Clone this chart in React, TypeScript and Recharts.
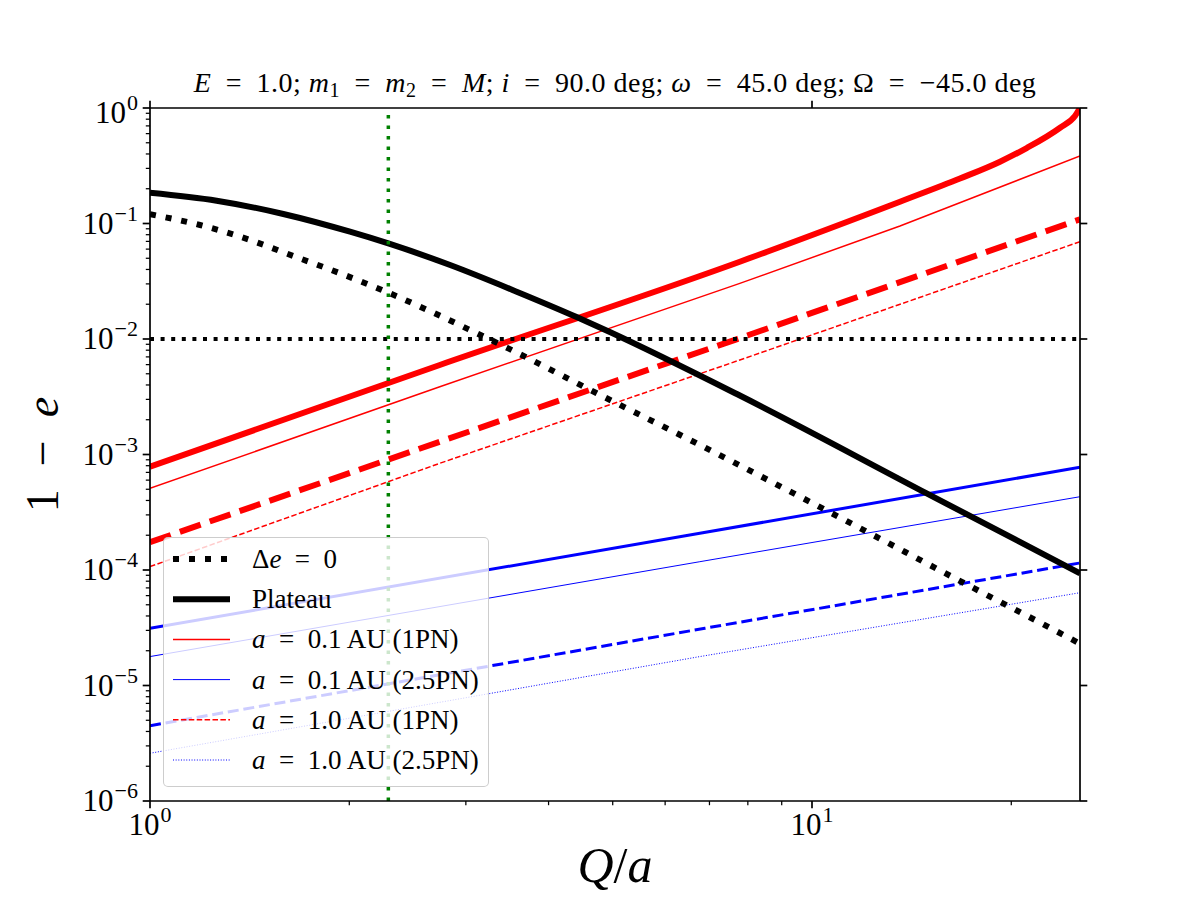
import React from "react";
import { LineChart, Line, XAxis, YAxis, ReferenceLine } from "recharts";

// plot frame (matplotlib default subplot box on a 1200x900 figure)
const LEFT = 150;
const RIGHT = 1080;
const TOP = 108;
const BOTTOM = 801;
const SERIF = '"Liberation Serif", "DejaVu Serif", serif';

// x = Q/a, y = 1 - e
const plateau = [
  { x: 1, y: 0.1848 },
  { x: 1.261, y: 0.1576 },
  { x: 1.59, y: 0.1209 },
  { x: 2.005, y: 0.0849 },
  { x: 2.291, y: 0.0672 },
  { x: 2.84, y: 0.0437 },
  { x: 3.58, y: 0.0257 },
  { x: 4.41, y: 0.0155 },
  { x: 4.95, y: 0.0115 },
  { x: 7.78, y: 0.00324 },
  { x: 14.9, y: 4.61e-4 },
  { x: 25.4, y: 9.36e-5 },
];

const deltaEZero = [
  { x: 1, y: 0.1202 },
  { x: 1.19, y: 0.097 },
  { x: 1.416, y: 0.072 },
  { x: 1.646, y: 0.0523 },
  { x: 1.936, y: 0.0371 },
  { x: 2.291, y: 0.0252 },
  { x: 2.679, y: 0.0169 },
  { x: 3.133, y: 0.01105 },
  { x: 3.477, y: 0.0083 },
  { x: 4.73, y: 0.00339 },
  { x: 6.77, y: 0.00121 },
  { x: 10.71, y: 3.1e-4 },
  { x: 16.93, y: 7.76e-5 },
  { x: 24.25, y: 2.65e-5 },
  { x: 25.4, y: 2.3e-5 },
];

const red1pnThick = [
  { x: 1, y: 7.84e-4 },
  { x: 2.74, y: 5.96e-3 },
  { x: 7.78, y: 0.0467 },
  { x: 13.58, y: 0.1545 },
  { x: 16.73, y: 0.245 },
  { x: 19.23, y: 0.343 },
  { x: 21.1, y: 0.45 },
  { x: 23.7, y: 0.675 },
  { x: 24.96, y: 0.853 },
  { x: 25.4, y: 1.0 },
];

const red1pnThin = [
  { x: 1, y: 5.09e-4 },
  { x: 2.74, y: 3.86e-3 },
  { x: 7.78, y: 0.0303 },
  { x: 13.58, y: 0.0951 },
  { x: 25.4, y: 0.384 },
];

const red1pnDashThick = [
  { x: 1, y: 1.74e-4 },
  { x: 2.74, y: 1.29e-3 },
  { x: 7.69, y: 9.94e-3 },
  { x: 25.4, y: 0.1087 },
];

const red1pnDashThin = [
  { x: 1, y: 1.07e-4 },
  { x: 2.74, y: 8.39e-4 },
  { x: 7.78, y: 6.58e-3 },
  { x: 25.4, y: 0.0696 },
];

const blue25pnThick = [
  { x: 1, y: 3.13e-5 },
  { x: 6.77, y: 2.08e-4 },
  { x: 25.4, y: 7.75e-4 },
];

const blue25pnThin = [
  { x: 1, y: 1.78e-5 },
  { x: 6.77, y: 1.18e-4 },
  { x: 25.4, y: 4.31e-4 },
];

const blue25pnDashThick = [
  { x: 1, y: 4.49e-6 },
  { x: 6.89, y: 3.13e-5 },
  { x: 25.4, y: 1.15e-4 },
];

const blue25pnDotThin = [
  { x: 1, y: 2.59e-6 },
  { x: 6.77, y: 1.78e-5 },
  { x: 25.4, y: 6.36e-5 },
];

const qMarker = 2.291;
const eLimit = 0.01;

const xDomain = [1, 25.4];
const yDomain = [1e-6, 1];
const xTicks = [1, 2, 3, 4, 5, 6, 7, 8, 9, 10, 20];
const xMajorTicks = [1, 10];
const yMajorTicks = [1e-6, 1e-5, 1e-4, 1e-3, 1e-2, 1e-1, 1];
const yTicks = [
  ...yMajorTicks,
  ...yMajorTicks.slice(0, -1).flatMap((d) => [2, 3, 4, 5, 6, 7, 8, 9].map((m) => m * d)),
];

const SP = "\u2002";
const legendLabels = [
  ["Δ", "e", `${SP}=${SP}0`],
  ["", "", "Plateau"],
  ["", "a", `${SP}=${SP}0.1 AU (1PN)`],
  ["", "a", `${SP}=${SP}0.1 AU (2.5PN)`],
  ["", "a", `${SP}=${SP}1.0 AU (1PN)`],
  ["", "a", `${SP}=${SP}1.0 AU (2.5PN)`],
];
const legendStyles = [
  { stroke: "#000", w: 6, dash: "6 10" },
  { stroke: "#000", w: 6, dash: undefined },
  { stroke: "red", w: 1.5, dash: undefined },
  { stroke: "blue", w: 1, dash: undefined },
  { stroke: "red", w: 1.5, dash: "5.5 2.4" },
  { stroke: "blue", w: 1, dash: "1 1.65" },
];

const MAJOR = 7.3;
const MINOR = 4.2;
const TICK_FS = 31;
const SUP_FS = 22;

function isMajor(v: number) {
  const l = Math.log10(v);
  return Math.abs(l - Math.round(l)) < 1e-6;
}

function expLabel(v: number) {
  const e = Math.round(Math.log10(v));
  return e < 0 ? "\u2212" + Math.abs(e) : String(e);
}

function TickText({ x, y, anchor, v }: { x: number; y: number; anchor: "middle" | "end"; v: number }) {
  return (
    <text x={x} y={y} textAnchor={anchor} fontFamily={SERIF} fontSize={TICK_FS} fill="#000">
      10<tspan dx={1} dy={-13} fontSize={SUP_FS}>{expLabel(v)}</tspan>
    </text>
  );
}

function BottomTick(props: any) {
  const { x, payload } = props;
  const v = payload.value;
  const major = isMajor(v);
  return (
    <g>
      <line x1={x} x2={x} y1={BOTTOM} y2={BOTTOM + (major ? MAJOR : MINOR)} stroke="#000" strokeWidth={major ? 1.7 : 1.25} />
      {major && <TickText x={x} y={BOTTOM + 34} anchor="middle" v={v} />}
    </g>
  );
}

function TopTick(props: any) {
  const { x } = props;
  return <line x1={x} x2={x} y1={TOP} y2={TOP - MAJOR} stroke="#000" strokeWidth={1.7} />;
}

function LeftTick(props: any) {
  const { y, payload } = props;
  const v = payload.value;
  const major = isMajor(v);
  const base = v === 1 ? y + 15 : y + 10;
  return (
    <g>
      <line x1={LEFT} x2={LEFT - (major ? MAJOR : MINOR)} y1={y} y2={y} stroke="#000" strokeWidth={major ? 1.7 : 1.25} />
      {major && <TickText x={LEFT - 12} y={base} anchor="end" v={v} />}
    </g>
  );
}

function RightTick(props: any) {
  const { y } = props;
  return <line x1={RIGHT} x2={RIGHT + MAJOR} y1={y} y2={y} stroke="#000" strokeWidth={1.7} />;
}

function Legend() {
  return (
    <div
      style={{
        position: "absolute",
        left: 163,
        top: 537,
        width: 326,
        height: 250,
        boxSizing: "border-box",
        border: "1.5px solid rgba(200,200,200,0.9)",
        borderRadius: 5,
        background: "rgba(255,255,255,0.8)",
      }}
    >
      <svg width={323} height={247} style={{ display: "block" }}>
        {legendLabels.map((lab, i) => {
          const cy = 21 + 40.2 * i;
          const s = legendStyles[i];
          return (
            <g key={i}>
              <line x1={9} x2={66} y1={cy} y2={cy} stroke={s.stroke} strokeWidth={s.w} strokeDasharray={s.dash} />
              <text x={88} y={cy + 9} fontFamily={SERIF} fontSize={27} fill="#000">
                {lab[0]}
                {lab[1] && <tspan fontStyle="italic">{lab[1]}</tspan>}
                {lab[2]}
              </text>
            </g>
          );
        })}
      </svg>
    </div>
  );
}

function Texts() {
  const eq = `${SP}=${SP}`;
  return (
    <svg width={1200} height={900} style={{ position: "absolute", left: 0, top: 0, pointerEvents: "none" }}>
      <text
        x={(LEFT + RIGHT) / 2}
        y={92}
        textAnchor="middle"
        fontFamily={SERIF}
        fontSize={28}
        letterSpacing={0.5}
        fill="#000"
      >
        <tspan fontStyle="italic">E</tspan>
        {`${eq}1.0; `}
        <tspan fontStyle="italic">m</tspan>
        <tspan dy={5} fontSize={20}>1</tspan>
        <tspan dy={-5}>{eq}</tspan>
        <tspan fontStyle="italic">m</tspan>
        <tspan dy={5} fontSize={20}>2</tspan>
        <tspan dy={-5}>{eq}</tspan>
        <tspan fontStyle="italic">M</tspan>
        {"; "}
        <tspan fontStyle="italic">i</tspan>
        {`${eq}90.0 deg; `}
        <tspan fontStyle="italic">ω</tspan>
        {`${eq}45.0 deg; Ω${eq}\u221245.0 deg`}
      </text>
      <text x={(LEFT + RIGHT) / 2} y={882} textAnchor="middle" fontFamily={SERIF} fontSize={50} fill="#000">
        <tspan fontStyle="italic">Q</tspan>/<tspan fontStyle="italic">a</tspan>
      </text>
      <text
        x={58}
        y={(TOP + BOTTOM) / 2}
        textAnchor="middle"
        transform={`rotate(-90, 58, ${(TOP + BOTTOM) / 2})`}
        fontFamily={SERIF}
        fontSize={46}
        fill="#000"
      >
        {`1${SP}\u2212${SP}`}
        <tspan fontStyle="italic">e</tspan>
      </text>
    </svg>
  );
}

export default function App() {
  const axisLine = { stroke: "#000", strokeWidth: 1.7 };
  return (
    <div style={{ position: "absolute", left: 0, top: 0, width: 1200, height: 900, background: "#fff" }}>
      <LineChart width={1200} height={900} margin={{ top: TOP - 1, right: 1200 - RIGHT - 1, bottom: 900 - BOTTOM - 1, left: LEFT - 1 }}>
        <XAxis
          xAxisId="b"
          dataKey="x"
          type="number"
          scale="log"
          domain={xDomain}
          allowDataOverflow
          ticks={xTicks}
          interval={0}
          height={1}
          tickSize={0}
          tickMargin={0}
          tickLine={false}
          axisLine={axisLine}
          tick={<BottomTick />}
        />
        <XAxis
          xAxisId="t"
          orientation="top"
          dataKey="x"
          type="number"
          scale="log"
          domain={xDomain}
          allowDataOverflow
          ticks={xMajorTicks}
          interval={0}
          height={1}
          tickSize={0}
          tickMargin={0}
          tickLine={false}
          axisLine={axisLine}
          tick={<TopTick />}
        />
        <YAxis
          yAxisId="l"
          dataKey="y"
          type="number"
          scale="log"
          domain={yDomain}
          allowDataOverflow
          ticks={yTicks}
          interval={0}
          width={1}
          tickSize={0}
          tickMargin={0}
          tickLine={false}
          axisLine={axisLine}
          tick={<LeftTick />}
        />
        <YAxis
          yAxisId="r"
          orientation="right"
          dataKey="y"
          type="number"
          scale="log"
          domain={yDomain}
          allowDataOverflow
          ticks={yMajorTicks}
          interval={0}
          width={1}
          tickSize={0}
          tickMargin={0}
          tickLine={false}
          axisLine={axisLine}
          tick={<RightTick />}
        />

        <Line xAxisId="b" yAxisId="l" data={red1pnThick} dataKey="y" type="monotone" stroke="red" strokeWidth={6} dot={false} isAnimationActive={false} />
        <Line xAxisId="b" yAxisId="l" data={red1pnThin} dataKey="y" type="linear" stroke="red" strokeWidth={1.5} dot={false} isAnimationActive={false} />
        <Line xAxisId="b" yAxisId="l" data={red1pnDashThick} dataKey="y" type="linear" stroke="red" strokeWidth={6} strokeDasharray="22 9.6" dot={false} isAnimationActive={false} />
        <Line xAxisId="b" yAxisId="l" data={red1pnDashThin} dataKey="y" type="linear" stroke="red" strokeWidth={1.5} strokeDasharray="5.5 2.4" dot={false} isAnimationActive={false} />
        <Line xAxisId="b" yAxisId="l" data={blue25pnThick} dataKey="y" type="linear" stroke="blue" strokeWidth={3} dot={false} isAnimationActive={false} />
        <Line xAxisId="b" yAxisId="l" data={blue25pnThin} dataKey="y" type="linear" stroke="blue" strokeWidth={1} dot={false} isAnimationActive={false} />
        <Line xAxisId="b" yAxisId="l" data={blue25pnDashThick} dataKey="y" type="linear" stroke="blue" strokeWidth={3} strokeDasharray="11 4.8" dot={false} isAnimationActive={false} />
        <Line xAxisId="b" yAxisId="l" data={blue25pnDotThin} dataKey="y" type="linear" stroke="blue" strokeWidth={1} strokeDasharray="1 1.65" dot={false} isAnimationActive={false} />
        <Line xAxisId="b" yAxisId="l" data={deltaEZero} dataKey="y" type="monotone" stroke="#000" strokeWidth={6} strokeDasharray="6 9.9" dot={false} isAnimationActive={false} />
        <Line xAxisId="b" yAxisId="l" data={plateau} dataKey="y" type="monotone" stroke="#000" strokeWidth={6} dot={false} isAnimationActive={false} />

        <ReferenceLine xAxisId="b" yAxisId="l" y={eLimit} stroke="#000" strokeWidth={4} strokeDasharray="4 6.6" />
        <ReferenceLine xAxisId="b" yAxisId="l" x={qMarker} stroke="green" strokeWidth={3.5} strokeDasharray="3.5 7" />
      </LineChart>
      <Texts />
      <Legend />
    </div>
  );
}
